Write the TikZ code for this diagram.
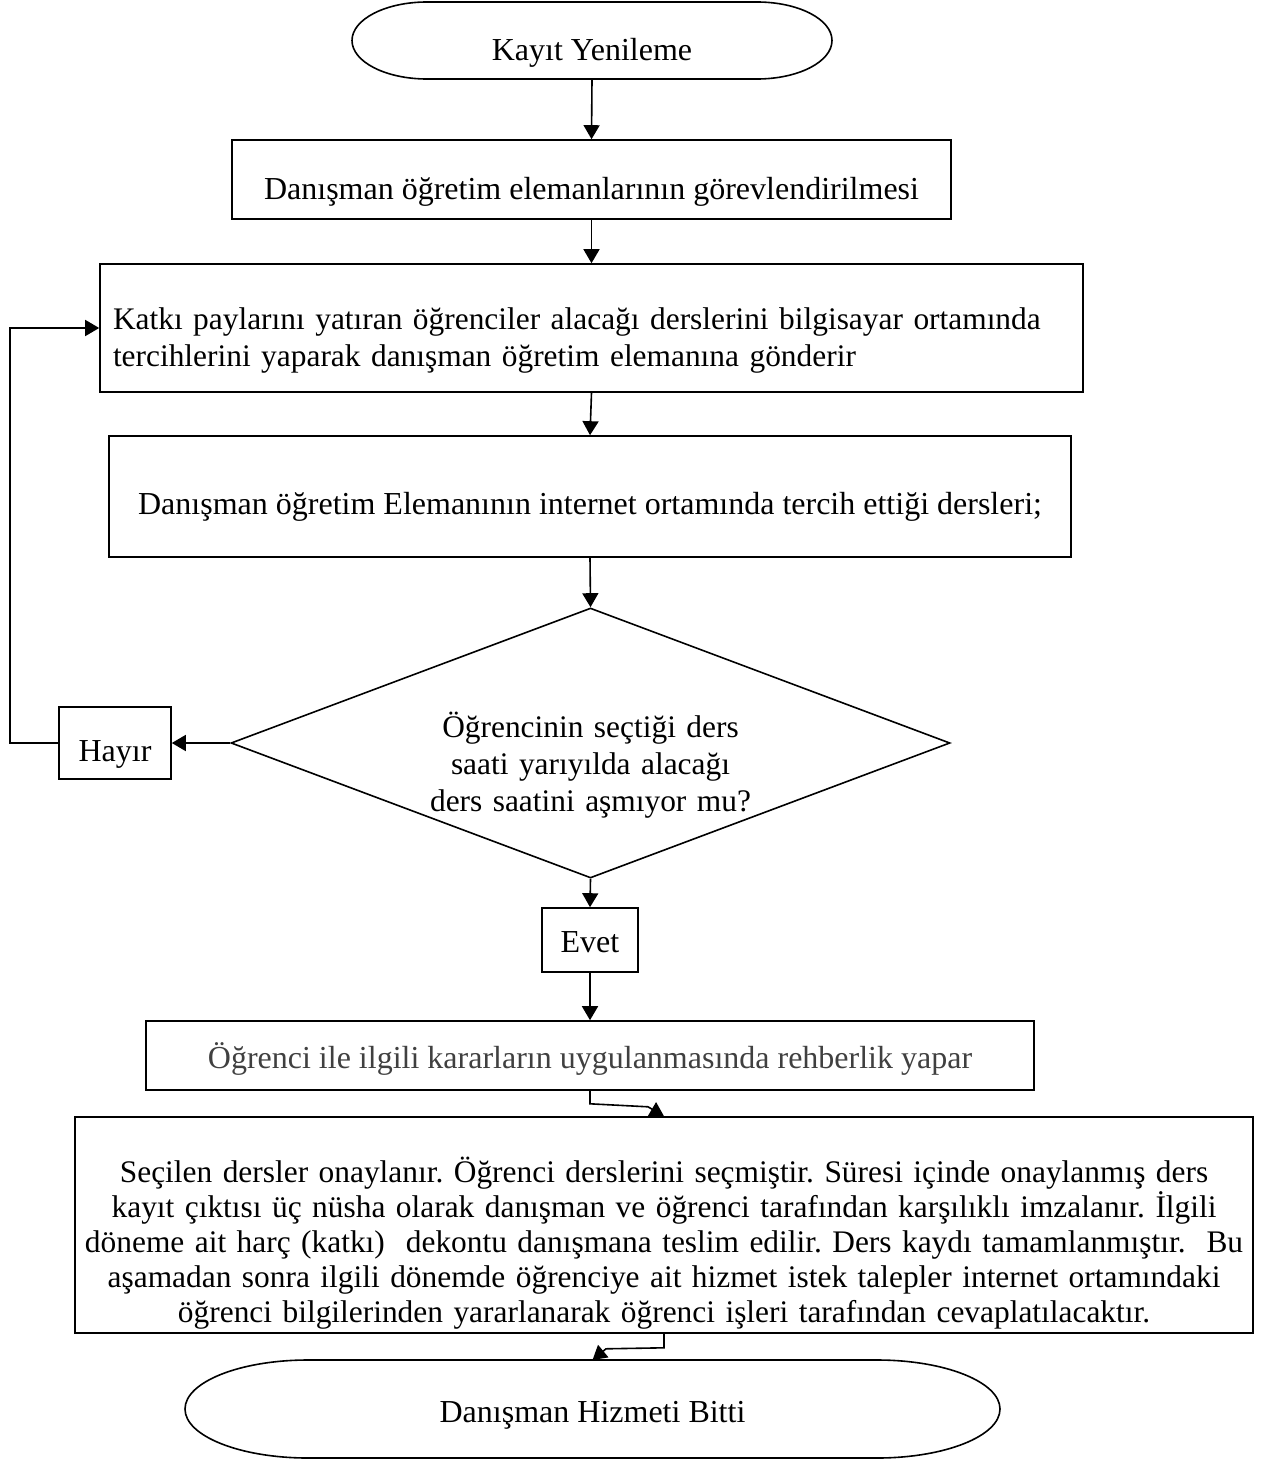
\documentclass[tikz,border=0pt]{standalone}
\usepackage{fontspec}
\setmainfont{Liberation Serif}
\usetikzlibrary{arrows.meta,shapes.geometric}
\definecolor{textgrey}{HTML}{404040}
\tikzset{
  every node/.style={font=\fontsize{16}{18.5}\selectfont\frenchspacing},
  box/.style={draw, rectangle, inner sep=0pt, align=center},
  oneline/.style={text depth=3.5pt},
  terminal/.style={inner sep=0pt, outer sep=0pt, align=center, text depth=3.5pt},
  decision/.style={draw, diamond, inner sep=0pt, aspect=2.66, align=center}
}
\begin{document}
\begin{tikzpicture}[x=0.5pt, y=-0.5pt, line width=0.8pt, >={Triangle[length=7pt,width=8pt]}]
  \useasboundingbox (0,0) rectangle (1269,1461);
  % nodes
  \node[terminal, minimum width=240pt, minimum height=38.5pt, text height=23.7pt] (kayit) at (592,40.5) {Kayıt Yenileme};
  \draw ([xshift=37.5pt]kayit.north west) -- ([xshift=-37.5pt]kayit.north east)
    arc[start angle=90, end angle=-90, x radius=37.5pt, y radius=19.25pt]
    -- ([xshift=37.5pt]kayit.south west)
    arc[start angle=270, end angle=90, x radius=37.5pt, y radius=19.25pt] -- cycle;
  \node[box, oneline, minimum width=359.5pt, minimum height=39.5pt, text height=23.7pt] (gorev) at (591.5,179.5) {Danışman öğretim elemanlarının görevlendirilmesi};
  \node[box, align=left, text width=478.5pt, minimum width=491.5pt, minimum height=64pt, text height=23.7pt, font=\fontsize{15.7}{18.5}\selectfont] (katki) at (591.5,328)
    {Katkı paylarını yatıran öğrenciler alacağı derslerini bilgisayar ortamında\\
     tercihlerini yaparak danışman öğretim elemanına gönderir};
  \node[box, oneline, minimum width=481pt, minimum height=60.5pt, text height=21.7pt] (internet) at (590,496.5) {Danışman öğretim Elemanının internet ortamında tercih ettiği dersleri;};
  \node[decision, text width=180pt, minimum width=359.5pt, minimum height=135pt, text height=0pt, text depth=5.8pt, font=\fontsize{15.7}{18.5}\selectfont] (soru) at (590.5,743)
    {Öğrencinin seçtiği ders\\ saati yarıyılda alacağı\\ ders saatini aşmıyor mu?};
  \node[box, oneline, minimum width=56pt, minimum height=36pt, text height=21.7pt] (hayir) at (115,743) {Hayır};
  \node[box, oneline, minimum width=48pt, minimum height=32pt, text height=15.7pt] (evet) at (590,940) {Evet};
  \node[box, oneline, minimum width=444pt, minimum height=34.5pt, text height=16.7pt, text=textgrey] (rehber) at (590,1055.5) {Öğrenci ile ilgili kararların uygulanmasında rehberlik yapar};
  \node[box, text width=589pt, minimum height=108pt, text height=30.7pt, font=\fontsize{15.7}{17.5}\selectfont\frenchspacing] (onay) at (664,1225)
    {Seçilen dersler onaylanır. Öğrenci derslerini seçmiştir. Süresi içinde onaylanmış ders\\
     kayıt çıktısı üç nüsha olarak danışman ve öğrenci tarafından karşılıklı imzalanır. İlgili\\
     döneme ait harç (katkı)~ dekontu danışmana teslim edilir. Ders kaydı tamamlanmıştır.~ Bu\\
     aşamadan sonra ilgili dönemde öğrenciye ait hizmet istek talepler internet ortamındaki\\
     öğrenci bilgilerinden yararlanarak öğrenci işleri tarafından cevaplatılacaktır.};
  \node[terminal, minimum width=407.5pt, minimum height=49pt, text height=16.7pt] (bitti) at (592.5,1409) {Danışman Hizmeti Bitti};
  \draw ([xshift=61.5pt]bitti.north west) -- ([xshift=-61.5pt]bitti.north east)
    arc[start angle=90, end angle=-90, x radius=61.5pt, y radius=24.5pt]
    -- ([xshift=61.5pt]bitti.south west)
    arc[start angle=270, end angle=90, x radius=61.5pt, y radius=24.5pt] -- cycle;
  % connectors
  \draw[->] (kayit.south) -- (gorev.north);
  \draw[->] (gorev.south) -- (katki.north);
  \draw[->] (katki.south) -- (internet.north);
  \draw[->] (internet.south) -- (soru.north);
  \draw[->] (soru.west) -- (hayir.east);
  \draw[->] (hayir.west) -- ++(-48.5,0) |- (katki.west);
  \draw[->] (soru.south) -- (evet.north);
  \draw[->] (evet.south) -- (rehber.north);
  \draw[->] (rehber.south) -- ++(0,13) -- ++(58,3) -- (onay.north);
  \draw[->] (onay.south) -- ++(0,14) -- ++(-58,1) -- (bitti.north);
\end{tikzpicture}
\end{document}
